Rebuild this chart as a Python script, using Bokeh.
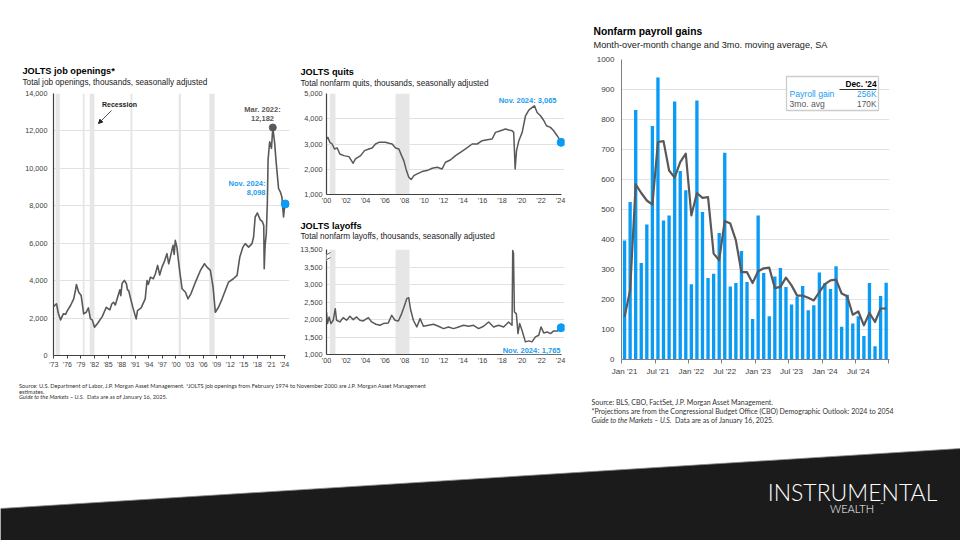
from bokeh.plotting import figure
from bokeh.layouts import row, column
from bokeh.models import Range1d, FixedTicker, Label, BoxAnnotation, Arrow, NormalHead
from bokeh.embed import file_html
from bokeh.resources import INLINE

# ---------------- data ----------------
# JOLTS job openings, thousands (x = position on the chart's year axis)
jobs_year = [1973.0, 1973.3, 1973.6, 1974.0, 1974.5, 1975.1, 1975.6, 1976.0, 1976.7, 1977.4,
             1977.8, 1978.0, 1978.5, 1979.05, 1979.6, 1980.15, 1980.65, 1981.1, 1981.5, 1982.0,
             1982.7, 1983.7, 1984.6, 1985.0, 1985.4, 1985.8, 1986.2, 1986.6, 1987.1, 1987.6,
             1987.8, 1988.1, 1988.6, 1989.05, 1989.3, 1989.55, 1989.9, 1990.5, 1991.2, 1991.5,
             1992.3, 1993.2, 1993.6, 1993.9, 1994.35, 1995.0, 1995.45, 1995.95, 1996.4, 1996.9,
             1997.4, 1998.0, 1998.4, 1998.75, 1999.35, 1999.6, 1999.85, 2000.2, 2000.8, 2001.35,
             2002.1, 2002.65, 2003.3, 2004.3, 2005.4, 2006.3, 2006.85, 2007.6, 2008.2, 2008.7,
             2009.4, 2010.2, 2010.9, 2011.6, 2012.7, 2013.5, 2014.1, 2014.8, 2015.3, 2016.05,
             2016.8, 2017.15, 2017.5, 2018.0, 2018.6, 2019.1, 2019.4, 2019.5, 2019.7, 2019.96,
             2020.2, 2020.35, 2020.7, 2021.1, 2021.4, 2021.82, 2022.1, 2022.3, 2022.67, 2023.05,
             2023.4, 2023.77, 2024.0, 2024.15]
jobs_val = [2620, 2700, 2760, 2257, 1900, 2224, 2200, 2400, 2670, 3028,
            3500, 3795, 3382, 3205, 2224, 2310, 2546, 1956, 1903, 1506,
            1720, 2080, 2578, 2500, 2440, 2750, 2846, 2700, 3114, 3510,
            3200, 3865, 4010, 3832, 3500, 3473, 3114, 2546, 1956, 2400,
            2546, 3028, 4010, 3800, 4186, 4100, 4368, 4813, 4300, 4722,
            5000, 5440, 4900, 5258, 5885, 5400, 6153, 5794, 4545, 3564,
            3382, 3028, 3296, 3918, 4545, 4904, 4722, 4545, 3650, 2310,
            2578, 3028, 3473, 3918, 4100, 4277, 5258, 5794, 5976, 5794,
            5976, 6330, 7400, 7616, 7263, 7150, 6950, 4636, 5900, 6512,
            8200, 10441, 11422, 11069, 12182, 11336, 10441, 9905, 8924, 8745,
            8477, 7400, 7940, 8098]
jobs_rec_start = [1973.4, 1979.4, 1980.95, 1989.93, 2000.6, 2007.37]
jobs_rec_end = [1974.33, 1979.8, 1981.98, 1990.37, 2001.1, 2008.54]
jobs_xticks = [1973, 1976, 1979, 1982, 1985, 1988, 1991, 1994, 1997, 2000, 2003, 2006,
               2009, 2012, 2015, 2018, 2021, 2024]
jobs_xlabels = ["'73", "'76", "'79", "'82", "'85", "'88", "'91", "'94", "'97", "'00", "'03",
                "'06", "'09", "'12", "'15", "'18", "'21", "'24"]
jobs_yticks = [0, 2000, 4000, 6000, 8000, 10000, 12000, 14000]
jobs_ylabels = ["0", "2,000", "4,000", "6,000", "8,000", "10,000", "12,000", "14,000"]

# JOLTS quits, thousands
quits_year = [2000.0, 2000.14, 2000.34, 2000.58, 2000.82, 2001.1, 2001.37, 2001.78, 2002.3, 2002.56,
              2002.73, 2002.97, 2003.5, 2003.9, 2004.34, 2004.68, 2005.03, 2005.37, 2005.7, 2006.05,
              2006.4, 2006.73, 2007.08, 2007.42, 2007.7, 2007.93, 2008.2, 2008.44, 2008.68, 2008.96,
              2009.3, 2009.8, 2010.3, 2010.84, 2011.35, 2011.86, 2012.2, 2012.7, 2013.23, 2013.74,
              2014.26, 2014.94, 2015.45, 2015.97, 2016.48, 2016.99, 2017.33, 2017.85, 2018.36, 2018.7,
              2019.04, 2019.2, 2019.35, 2019.49, 2019.73, 2020.07, 2020.41, 2020.75, 2021.1, 2021.33,
              2021.6, 2021.95, 2022.3, 2022.56, 2022.97, 2023.3, 2023.66, 2024.07]
quits_val = [3197, 3263, 3066, 3000, 2803, 2842, 2605, 2540, 2500, 2342,
             2237, 2408, 2540, 2737, 2803, 2842, 3000, 3066, 3066, 3066,
             3026, 3000, 2842, 2803, 2540, 2342, 1947, 1684, 1592, 1750,
             1816, 1908, 1947, 2039, 2079, 2013, 2276, 2368, 2540, 2671,
             2803, 3000, 3000, 3132, 3171, 3197, 3460, 3526, 3592, 3553,
             3526, 3460, 2013, 2737, 3132, 3460, 4118, 4342, 4447, 4513,
             4250, 4118, 3921, 3724, 3658, 3526, 3329, 3065]

# JOLTS layoffs, thousands
lay_year = [2000.0, 2000.1, 2000.27, 2000.45, 2000.69, 2000.9, 2001.03, 2001.37, 2001.71, 2002.06,
            2002.4, 2002.74, 2003.09, 2003.43, 2003.77, 2004.29, 2004.63, 2005.07, 2005.49, 2005.83,
            2006.34, 2006.69, 2007.03, 2007.37, 2007.71, 2007.95, 2008.23, 2008.43, 2008.64, 2008.91,
            2009.26, 2009.6, 2009.94, 2010.46, 2010.97, 2011.48, 2012.0, 2012.51, 2013.03, 2013.54,
            2014.06, 2014.57, 2015.08, 2015.6, 2016.11, 2016.63, 2017.14, 2017.66, 2018.17, 2018.68,
            2019.03, 2019.1, 2019.18, 2019.27, 2019.47, 2019.64, 2019.81, 2020.05, 2020.4, 2020.74,
            2021.08, 2021.43, 2021.77, 2022.0, 2022.28, 2022.63, 2022.97, 2023.31, 2023.65, 2024.0,
            2024.07]
lay_val = [2215, 1883, 2073, 1883, 1978, 2310, 1978, 1930, 2054, 1978,
           2092, 1997, 2073, 1978, 1959, 2054, 1930, 1864, 1835, 1883,
           1902, 2120, 1978, 1959, 2168, 2358, 2595, 2623, 2263, 1978,
           1788, 2025, 1807, 1835, 1864, 1807, 1740, 1788, 1740, 1788,
           1835, 1807, 1835, 1740, 1807, 1930, 1788, 1835, 1788, 1930,
           1835, 13000, 11500, 2215, 2168, 1598, 1883, 1693, 1361, 1389,
           1361, 1503, 1551, 1788, 1617, 1645, 1598, 1674, 1674, 1700,
           1765]
ql_rec_start = [2000.34, 2007.08]
ql_rec_end = [2000.92, 2008.51]
ql_xticks = [2000, 2002, 2004, 2006, 2008, 2010, 2012, 2014, 2016, 2018, 2020, 2022, 2024]
ql_xlabels = ["'00", "'02", "'04", "'06", "'08", "'10", "'12", "'14", "'16", "'18", "'20", "'22", "'24"]
quits_yticks = [1000, 2000, 3000, 4000, 5000]
quits_ylabels = ["1,000", "2,000", "3,000", "4,000", "5,000"]
lay_yticks = [1000, 1500, 2000, 2500, 3000, 3500, 4000]
lay_ylabels = ["1,000", "1,500", "2,000", "2,500", "3,000", "3,500", "13,500"]
LAY_BREAK, LAY_SQUEEZE = 3500, 20  # broken axis: above 3,500 the scale is compressed

# Nonfarm payroll gains, thousands, Jan 2021 .. Dec 2024
payroll_gain = [397, 525, 832, 322, 450, 778, 940, 463, 480, 860, 628, 564,
                251, 863, 492, 272, 286, 422, 689, 243, 255, 362, 258, 135,
                480, 288, 144, 277, 305, 242, 183, 209, 245, 164, 181, 290,
                255, 235, 311, 109, 216, 120, 144, 78, 255, 44, 212, 256]
payroll_avg = [142, 231, 584, 555, 530, 516, 725, 728, 630, 606, 658, 686,
               480, 555, 539, 541, 353, 331, 462, 453, 397, 291, 291, 255,
               294, 304, 306, 238, 242, 273, 247, 213, 213, 206, 197, 225,
               251, 264, 266, 220, 211, 149, 160, 114, 155, 125, 170, 170]
payroll_xlabels = ["Jan '21", "Jul '21", "Jan '22", "Jul '22", "Jan '23", "Jul '23", "Jan '24", "Jul '24"]
payroll_yticks = [0, 100, 200, 300, 400, 500, 600, 700, 800, 900, 1000]

# ---------------- styling ----------------
FONT = "Liberation Sans"
NOTE = "Lato"
LOGO = "Lato Light, Lato"
DARK = "#595959"
BLUE = "#0A9BF5"
LBLUE = "#1C9CF0"
GRID = "#e2e2e2"
REC = "#e6e6e6"
AX = "#404040"
NOTE_C = "#333333"


def frame_map(f_left, f_right, x0, x1, f_top, f_bottom, y0, y1):
    fx = lambda px: x0 + (px - f_left) * (x1 - x0) / (f_right - f_left)
    fy = lambda py: y0 + (f_bottom - py) * (y1 - y0) / (f_bottom - f_top)
    return fx, fy


def ident(v):
    return v


def make_fig(w, h, mbl, mbr, mbt, mbb, xr, yr, axes=True):
    kw = dict(width=w, height=h, x_range=Range1d(*xr), y_range=Range1d(*yr),
              output_backend="svg", toolbar_location=None, title=None,
              min_border_left=mbl, min_border_right=mbr,
              min_border_top=mbt, min_border_bottom=mbb)
    if not axes:
        kw.update(x_axis_type=None, y_axis_type=None)
    p = figure(**kw)
    p.outline_line_color = None
    p.border_fill_color = "white"
    p.background_fill_color = "white"
    if axes:
        p.xgrid.visible = False
        p.ygrid.grid_line_color = GRID
        for ax in (p.xaxis[0], p.yaxis[0]):
            ax.major_label_text_font = FONT
            ax.major_label_text_color = "#404040"
            ax.minor_tick_line_color = None
            ax.axis_line_color = AX
            ax.major_tick_line_color = AX
    else:
        if "frame_align" in p.properties():
            p.frame_align = False
    return p


def text_fig(x0, y0, w, h):
    """A bare panel whose data coordinates are the page's pixel coordinates."""
    return make_fig(w, h, 0, 0, 0, 0, (x0, x0 + w), (y0 + h, y0), axes=False)


def put(p, fx, fy, px, py, text, size, color="#000000", style="normal", align="left",
        font=FONT, bg=None):
    p.add_layout(Label(x=fx(px), y=fy(py), text=text, text_font=font,
                       text_font_size=f"{size}px", text_color=color,
                       text_font_style=style, text_align=align, text_baseline="middle",
                       background_fill_color=bg))


def seg(p, fx, fy, a, b, color, width):
    p.add_layout(Arrow(end=None, x_start=fx(a[0]), y_start=fy(a[1]), x_end=fx(b[0]),
                       y_end=fy(b[1]), line_color=color, line_width=width))


TITLE_SZ, SUB_SZ = 9.2, 8.2

# ---------------- JOLTS job openings ----------------
tj = text_fig(0, 0, 292, 88)
put(tj, ident, ident, 22, 70.5, "JOLTS job openings*", TITLE_SZ, "#000000", "bold")
put(tj, ident, ident, 22, 82, "Total job openings, thousands, seasonally adjusted", SUB_SZ, "#1a1a1a")

JX0, JPX = 1972.934, 4.525
jx1 = JX0 + (289 - 53) / JPX
pj = make_fig(292, 292, 53, 3, 5, 25, (JX0, jx1), (0, 14000))
fxj, fyj = frame_map(53, 289, JX0, jx1, 93, 355, 0, 14000)
pj.quad(left=jobs_rec_start, right=jobs_rec_end, bottom=0, top=14000,
        fill_color=REC, line_color=None)
pj.line(jobs_year, jobs_val, line_color=DARK, line_width=1.6, line_join="round")
ipk = jobs_val.index(max(jobs_val))
pj.scatter([jobs_year[ipk]], [jobs_val[ipk]], size=7, color=DARK)
pj.scatter([jobs_year[-1]], [jobs_val[-1]], size=8, color=BLUE)
pj.yaxis.ticker = FixedTicker(ticks=jobs_yticks)
pj.yaxis.major_label_overrides = dict(zip(jobs_yticks, jobs_ylabels))
pj.yaxis.major_tick_out = 0
pj.yaxis.major_tick_in = 0
pj.yaxis.major_label_standoff = 6
pj.yaxis.major_label_text_font_size = "7.3px"
pj.yaxis.axis_line_width = 1.2
pj.xaxis.ticker = FixedTicker(ticks=jobs_xticks)
pj.xaxis.major_label_overrides = dict(zip(jobs_xticks, jobs_xlabels))
pj.xaxis.major_tick_out = 3
pj.xaxis.major_tick_in = 0
pj.xaxis.major_label_standoff = 2
pj.xaxis.major_label_text_font_size = "7px"
pj.xaxis.axis_line_width = 1.2
pj.xaxis.bounds = (JX0, jobs_year[-1])
put(pj, fxj, fyj, 119, 104, "Recession", 7, "#1a1a1a", "bold", "center")
pj.add_layout(Arrow(end=NormalHead(size=4, fill_color="#222222", line_color="#222222"),
                    x_start=fxj(111), y_start=fyj(110), x_end=fxj(98), y_end=fyj(123),
                    line_color="#222222", line_width=0.8))
put(pj, fxj, fyj, 262, 109, "Mar. 2022:", 7.5, DARK, "bold", "center")
put(pj, fxj, fyj, 262, 117.5, f"{jobs_val[ipk]:,}", 7.5, DARK, "bold", "center")
put(pj, fxj, fyj, 265, 183, "Nov. 2024:", 7.5, LBLUE, "bold", "right")
put(pj, fxj, fyj, 265, 192, f"{jobs_val[-1]:,}", 7.5, LBLUE, "bold", "right")

# ---------------- JOLTS quits ----------------
tq = text_fig(292, 0, 288, 88)
put(tq, ident, ident, 300, 71, "JOLTS quits", TITLE_SZ, "#000000", "bold")
put(tq, ident, ident, 300, 82.5, "Total nonfarm quits, thousands, seasonally adjusted", SUB_SZ, "#1a1a1a")

QX0, QPX = 2000.0, 9.75
qx1 = QX0 + (564 - 326) / QPX
pq = make_fig(288, 128, 34, 16, 5, 22, (QX0, qx1), (1000, 5000))
fxq, fyq = frame_map(326, 564, QX0, qx1, 93, 194, 1000, 5000)
pq.quad(left=ql_rec_start, right=ql_rec_end, bottom=1000, top=5000, fill_color=REC, line_color=None)
pq.line(quits_year, quits_val, line_color=DARK, line_width=1.5, line_join="round")
pq.scatter([quits_year[-1]], [quits_val[-1]], size=8, color=BLUE)
pq.yaxis.ticker = FixedTicker(ticks=quits_yticks)
pq.yaxis.major_label_overrides = dict(zip(quits_yticks, quits_ylabels))
put(pq, fxq, fyq, 556, 100, f"Nov. 2024: {quits_val[-1]:,}", 7.5, LBLUE, "bold", "right")

# ---------------- JOLTS layoffs ----------------
tl = text_fig(292, 216, 288, 28)
put(tl, ident, ident, 300, 225, "JOLTS layoffs", TITLE_SZ, "#000000", "bold")
put(tl, ident, ident, 300, 236, "Total nonfarm layoffs, thousands, seasonally adjusted", SUB_SZ, "#1a1a1a")

lay_plot = [v if v <= LAY_BREAK else LAY_BREAK + (v - LAY_BREAK) / LAY_SQUEEZE for v in lay_val]
pl = make_fig(288, 136, 34, 16, 5, 26, (QX0, qx1), (1000, 4000))
fxl, fyl = frame_map(326, 564, QX0, qx1, 249, 354, 1000, 4000)
pl.quad(left=ql_rec_start, right=ql_rec_end, bottom=1000, top=4000, fill_color=REC, line_color=None)
pl.line(lay_year, lay_plot, line_color=DARK, line_width=1.5, line_join="round")
pl.scatter([lay_year[-1]], [lay_plot[-1]], size=8, color=BLUE)
pl.yaxis.ticker = FixedTicker(ticks=lay_yticks)
pl.yaxis.major_label_overrides = dict(zip(lay_yticks, lay_ylabels))
put(pl, fxl, fyl, 560, 349.5, f"Nov. 2024: {lay_val[-1]:,}", 7.5, LBLUE, "bold", "right", bg="white")
seg(pl, fxl, fyl, (326.5, 253.5), (326.5, 260.5), "white", 3)
seg(pl, fxl, fyl, (323, 256), (330, 252), DARK, 1)
seg(pl, fxl, fyl, (323, 261), (330, 257), DARK, 1)

for p in (pq, pl):
    p.xaxis.ticker = FixedTicker(ticks=ql_xticks)
    p.xaxis.major_label_overrides = dict(zip(ql_xticks, ql_xlabels))
    p.xaxis.major_tick_out = 0
    p.xaxis.major_tick_in = 0
    p.xaxis.major_label_standoff = 1
    p.xaxis.major_label_text_font_size = "7.3px"
    p.xaxis.bounds = (QX0, quits_year[-1])
    p.yaxis.major_tick_out = 0
    p.yaxis.major_tick_in = 0
    p.yaxis.major_label_standoff = 4
    p.yaxis.major_label_text_font_size = "7.3px"
    p.xaxis.axis_line_width = 1.2
    p.yaxis.axis_line_width = 1.2

# ---------------- left footnote ----------------
pf = text_fig(0, 380, 580, 50)
put(pf, ident, ident, 18.5, 385, "Source: U.S. Department of Labor, J.P. Morgan Asset Management. *JOLTS job openings "
    "from February 1974 to November 2000 are J.P. Morgan Asset Management", 5.7, NOTE_C, font=NOTE)
put(pf, ident, ident, 18.5, 390.5, "estimates.", 5.7, NOTE_C, font=NOTE)
put(pf, ident, ident, 18.5, 396, "Guide to the Markets \u2013 U.S.", 5.7, NOTE_C, "italic", font=NOTE)
put(pf, ident, ident, 86.5, 396, "Data are as of January 16, 2025.", 5.7, NOTE_C, font=NOTE)

# ---------------- Nonfarm payroll gains ----------------
tp = text_fig(580, 0, 380, 54)
put(tp, ident, ident, 593, 31, "Nonfarm payroll gains", 10.3, "#000000", "bold")
put(tp, ident, ident, 593, 44.5, "Month-over-month change and 3mo. moving average, SA", 9.2, "#1a1a1a")

PX0, PX1 = -0.55, 47.6
pp = make_fig(380, 336, 41, 71, 5, 31, (PX0, PX1), (0, 1000))
fxp, fyp = frame_map(621, 889, PX0, PX1, 59, 359, 0, 1000)
months = list(range(len(payroll_gain)))
pp.vbar(x=months, top=payroll_gain, width=0.6, fill_color=BLUE, line_color=None)
pp.line(months, payroll_avg, line_color=DARK, line_width=2.2, line_join="round")
pticks = months[::6]
pp.xaxis.ticker = FixedTicker(ticks=pticks, minor_ticks=[m - 0.5 for m in pticks] + [months[-1] + 0.5])
pp.xaxis.major_label_overrides = dict(zip(pticks, payroll_xlabels))
pp.xaxis.major_tick_out = 0
pp.xaxis.major_tick_in = 0
pp.xaxis.minor_tick_line_color = "#7f7f7f"
pp.xaxis.minor_tick_out = 4
pp.xaxis.minor_tick_in = 0
pp.xaxis.major_label_standoff = 3
pp.xaxis.major_label_text_font_size = "8px"
pp.xaxis.axis_line_color = "#7f7f7f"
pp.yaxis.ticker = FixedTicker(ticks=payroll_yticks)
pp.yaxis.major_label_overrides = {t: str(t) for t in payroll_yticks}
pp.yaxis.major_tick_out = 0
pp.yaxis.major_tick_in = 0
pp.yaxis.major_label_standoff = 7
pp.yaxis.major_label_text_font_size = "8px"
pp.yaxis.axis_line_color = "#7f7f7f"
pp.add_layout(BoxAnnotation(left=fxp(786), right=fxp(878), top=fyp(76), bottom=fyp(110),
                            fill_color="white", fill_alpha=1, line_color="#595959", line_width=1.3))
put(pp, fxp, fyp, 876, 83.5, "Dec. '24", 8.3, "#000000", "bold", "right")
seg(pp, fxp, fyp, (839, 89), (876, 89), "#000000", 0.8)
put(pp, fxp, fyp, 789, 93.5, "Payroll gain", 8.6, LBLUE)
put(pp, fxp, fyp, 876, 93.5, f"{payroll_gain[-1]}K", 8.3, LBLUE, "normal", "right")
put(pp, fxp, fyp, 789, 103.5, "3mo. avg", 8.6, DARK)
put(pp, fxp, fyp, 876, 103.5, f"{payroll_avg[-1]}K", 8.3, DARK, "normal", "right")

fp = text_fig(580, 390, 380, 40)
put(fp, ident, ident, 591, 401, "Source: BLS, CBO, FactSet, J.P. Morgan Asset Management.", 7.0, NOTE_C, font=NOTE)
put(fp, ident, ident, 591, 410.5, "*Projections are from the Congressional Budget Office (CBO) Demographic Outlook: 2024 to 2054",
    7.0, NOTE_C, font=NOTE)
put(fp, ident, ident, 591, 419.5, "Guide to the Markets \u2013 U.S.", 7.0, NOTE_C, "italic", font=NOTE)
put(fp, ident, ident, 674.5, 419.5, "Data are as of January 16, 2025.", 7.0, NOTE_C, font=NOTE)

# ---------------- bottom band with logo ----------------
pb = text_fig(0, 430, 960, 110)
pb.patch([0, 960, 960, 0], [508, 448, 540, 540], fill_color="#1b1b1b", line_color="#8c8c8c", line_width=0.8)
put(pb, ident, ident, 852, 491.5, "INSTRUMENTAL", 23, "#ffffff", align="center", font=LOGO)
put(pb, ident, ident, 851.5, 507.5, "WEALTH", 11, "#ffffff", align="center", font=LOGO)
put(pb, ident, ident, 880, 504, "\u2122", 4, "#ffffff", font=NOTE)

# text panels are wrapped in their own rows so they are not frame-aligned with the charts
left = column(row(column(row(tj), pj), column(row(tq), pq, row(tl), pl)), pf)
right = column(row(tp), pp, row(fp))
root = column(row(left, right), pb)

open("out.html", "w").write(file_html(root, INLINE))
